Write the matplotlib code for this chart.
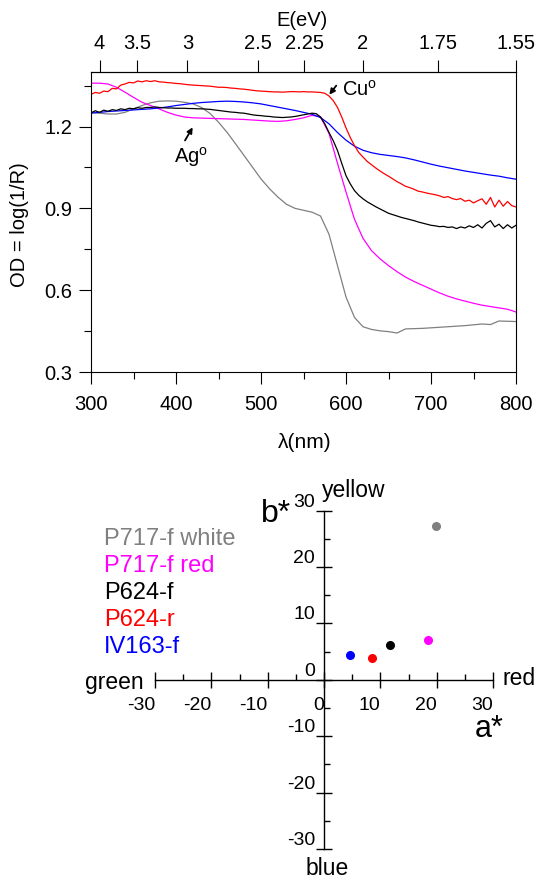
import numpy as np
import matplotlib
matplotlib.use('Agg')
import matplotlib.pyplot as plt
from matplotlib.ticker import MultipleLocator

plt.rcParams['font.family'] = ['Liberation Sans', 'DejaVu Sans']
plt.rcParams['font.size'] = 14.5
plt.rcParams['axes.unicode_minus'] = False
plt.rcParams['mathtext.fontset'] = 'custom'
plt.rcParams['mathtext.rm'] = 'Liberation Sans'

# --- reflectance spectra (OD = log(1/R)) ---
wl10 = np.arange(300, 801, 10)
wl5 = np.arange(300, 801, 5)

od_white = [1.252, 1.249, 1.246, 1.246, 1.252, 1.265, 1.277, 1.287, 1.293, 1.294,
            1.293, 1.289, 1.283, 1.270, 1.248, 1.216, 1.179, 1.137, 1.094, 1.051,
            1.008, 0.972, 0.941, 0.915, 0.900, 0.893, 0.886, 0.872, 0.805, 0.690,
            0.575, 0.500, 0.466, 0.456, 0.451, 0.448, 0.443, 0.458, 0.459, 0.460,
            0.462, 0.464, 0.466, 0.468, 0.470, 0.473, 0.476, 0.474, 0.487, 0.486,
            0.485]

od_redglaze = [1.359, 1.359, 1.356, 1.344, 1.326, 1.307, 1.289, 1.277, 1.265, 1.252,
               1.242, 1.235, 1.232, 1.231, 1.230, 1.229, 1.228, 1.227, 1.226, 1.224,
               1.222, 1.220, 1.219, 1.221, 1.226, 1.232, 1.241, 1.236, 1.175, 1.065,
               0.960, 0.860, 0.790, 0.745, 0.715, 0.690, 0.668, 0.648, 0.632, 0.618,
               0.604, 0.590, 0.578, 0.568, 0.560, 0.552, 0.545, 0.540, 0.535, 0.530,
               0.520]

od_iv163 = [1.249, 1.252, 1.255, 1.257, 1.259, 1.261, 1.263, 1.265, 1.268, 1.272,
            1.277, 1.281, 1.285, 1.288, 1.290, 1.292, 1.293, 1.292, 1.290, 1.287,
            1.283, 1.277, 1.271, 1.265, 1.259, 1.252, 1.245, 1.233, 1.210, 1.178,
            1.150, 1.128, 1.113, 1.104, 1.098, 1.094, 1.090, 1.085, 1.078, 1.070,
            1.062, 1.055, 1.049, 1.043, 1.037, 1.032, 1.027, 1.022, 1.018, 1.012,
            1.007]

od_p624r = [1.318, 1.325, 1.322, 1.330, 1.328, 1.340, 1.338, 1.352, 1.356, 1.362,
            1.360, 1.367, 1.364, 1.368, 1.365, 1.368, 1.364, 1.363, 1.361, 1.360,
            1.358, 1.357, 1.355, 1.353, 1.352, 1.351, 1.350, 1.349, 1.348, 1.346,
            1.344, 1.344, 1.343, 1.341, 1.340, 1.338, 1.337, 1.335, 1.333, 1.331,
            1.330, 1.329, 1.328, 1.327, 1.327, 1.326, 1.327, 1.328, 1.328, 1.327,
            1.328, 1.327, 1.327, 1.326, 1.325, 1.322, 1.312, 1.295, 1.270, 1.235,
            1.195, 1.160, 1.130, 1.105, 1.088, 1.072, 1.060, 1.048, 1.037, 1.027,
            1.018, 1.008, 0.998, 0.990, 0.981, 0.976, 0.970, 0.963, 0.960, 0.956,
            0.953, 0.950, 0.946, 0.940, 0.943, 0.936, 0.932, 0.936, 0.926, 0.930,
            0.920, 0.928, 0.935, 0.915, 0.940, 0.905, 0.930, 0.908, 0.925, 0.910,
            0.905]

od_p624f = [1.250, 1.258, 1.252, 1.260, 1.256, 1.262, 1.259, 1.265, 1.262, 1.267,
            1.265, 1.269, 1.267, 1.270, 1.270, 1.272, 1.270, 1.269, 1.268, 1.268,
            1.267, 1.267, 1.267, 1.266, 1.266, 1.265, 1.265, 1.264, 1.263, 1.261,
            1.259, 1.257, 1.255, 1.253, 1.252, 1.250, 1.249, 1.246, 1.243, 1.241,
            1.240, 1.238, 1.237, 1.235, 1.234, 1.233, 1.234, 1.235, 1.237, 1.240,
            1.243, 1.246, 1.249, 1.247, 1.235, 1.210, 1.178, 1.148, 1.112, 1.065,
            1.020, 0.990, 0.965, 0.948, 0.935, 0.924, 0.915, 0.906, 0.898, 0.890,
            0.882, 0.877, 0.872, 0.867, 0.863, 0.859, 0.855, 0.850, 0.846, 0.842,
            0.838, 0.836, 0.833, 0.834, 0.830, 0.832, 0.826, 0.832, 0.828, 0.836,
            0.830, 0.840, 0.828, 0.845, 0.855, 0.832, 0.842, 0.826, 0.840, 0.828,
            0.838]

# --- CIELab colour coordinates ---
sample_names = ['P717-f white', 'P717-f red', 'P624-f', 'P624-r', 'IV163-f']
sample_colors = ['#808080', '#ff00ff', 'black', '#ff0000', '#0000ff']
a_star = [19.8, 18.4, 11.8, 8.5, 4.7]
b_star = [27.2, 7.1, 6.1, 3.9, 4.4]

W, H = 538, 880


def px(x, y):
    return x / W, 1 - y / H


def nm2ev(x):
    x = np.asarray(x, dtype=float)
    with np.errstate(divide='ignore'):
        return 1240.0 / x


fig = plt.figure(figsize=(W / 100, H / 100), dpi=100)

# ---------------- spectra ----------------
ax1 = fig.add_axes([91 / W, 1 - 372 / H, 425 / W, 300 / H])
ax1.plot(wl10, od_white, color='#808080', lw=0.9)
ax1.plot(wl10, od_redglaze, color='#ff00ff', lw=0.9)
ax1.plot(wl10, od_iv163, color='#0000ff', lw=0.9)
ax1.plot(wl5, od_p624f, color='black', lw=0.9)
ax1.plot(wl5, od_p624r, color='#ff0000', lw=0.9)

ax1.set_xlim(300, 800)
ax1.set_ylim(0.3, 1.4)
ax1.set_xticks(np.arange(300, 801, 100))
ax1.xaxis.set_minor_locator(MultipleLocator(50))
ax1.set_yticks([0.3, 0.6, 0.9, 1.2])
ax1.yaxis.set_minor_locator(MultipleLocator(0.15))
ax1.tick_params(which='major', direction='out', length=8.6, width=0.8, pad=5,
                top=False, right=False)
ax1.tick_params(axis='x', which='major', pad=8)
ax1.tick_params(which='minor', direction='out', length=5, width=0.8,
                top=False, right=False)
for s in ax1.spines.values():
    s.set_linewidth(0.8)

sec = ax1.secondary_xaxis('top', functions=(nm2ev, nm2ev))
e_ticks = [4, 3.5, 3, 2.5, 2.25, 2, 1.75, 1.55]
sec.set_xticks(e_ticks)
sec.set_xticklabels(['4', '3.5', '3', '2.5', '2.25', '2', '1.75', '1.55'])
sec.xaxis.set_minor_locator(matplotlib.ticker.NullLocator())
sec.tick_params(direction='out', length=8.6, width=0.8, pad=5)
sec.spines['top'].set_linewidth(0.8)

fig.text(*px(305, 442), 'λ(nm)', ha='center', va='center', fontsize=15)
fig.text(*px(302, 20), 'E(eV)', ha='center', va='center', fontsize=14.5)
fig.text(*px(19.5, 225), 'OD = log(1/R)', ha='center', va='center',
         rotation=90, fontsize=14.5)

arrow = dict(arrowstyle='-|>', color='black', lw=1.3, mutation_scale=8,
             shrinkA=0, shrinkB=0)
ax1.annotate('', xy=(580.4, 1.317), xytext=(588.5, 1.350), arrowprops=arrow)
ax1.text(595, 1.335, 'Cu$^{\\mathrm{o}}$', ha='left', va='center', fontsize=14.5)
ax1.annotate('', xy=(419.6, 1.197), xytext=(410.6, 1.149), arrowprops=arrow)
ax1.text(417.5, 1.088, 'Ag$^{\\mathrm{o}}$', ha='center', va='center', fontsize=14.5)

# ---------------- a*b* diagram ----------------
ax2 = fig.add_axes([155 / W, 1 - 849 / H, 338 / W, 338.3 / H])
ax2.set_facecolor('none')
for a, b, c in zip(a_star, b_star, sample_colors):
    ax2.plot(a, b, 'o', color=c, ms=5.5, clip_on=False)

ax2.set_xlim(-30, 30)
ax2.set_ylim(-30, 30)
ax2.spines['left'].set_position('zero')
ax2.spines['bottom'].set_position('zero')
ax2.spines['top'].set_visible(False)
ax2.spines['right'].set_visible(False)
ax2.spines['left'].set_linewidth(1.0)
ax2.spines['bottom'].set_linewidth(1.0)
ax2.set_xticks(np.arange(-30, 31, 10))
ax2.set_yticks(np.arange(-30, 31, 10))
ax2.xaxis.set_minor_locator(MultipleLocator(5))
ax2.yaxis.set_minor_locator(MultipleLocator(5))
ax2.tick_params(which='major', direction='inout', length=11, width=1.0,
                labelsize=14, pad=1)
ax2.tick_params(axis='x', which='major', pad=7)
ax2.tick_params(which='minor', direction='in', length=4, width=1.0)
plt.setp(ax2.get_xticklabels(), ha='right')
plt.setp(ax2.get_yticklabels(), va='bottom')

ax2.text(-11.2, 28.07, 'b*', ha='left', va='baseline', fontsize=23)
ax2.text(26.8, -10.1, 'a*', ha='left', va='baseline', fontsize=22)
ax2.text(-0.4, 33.6, 'yellow', ha='left', va='center', fontsize=16.5, clip_on=False)
ax2.text(0.5, -33.4, 'blue', ha='center', va='center', fontsize=16.5, clip_on=False)
ax2.text(-32.1, -0.4, 'green', ha='right', va='center', fontsize=16.5, clip_on=False)
ax2.text(31.6, 0.2, 'red', ha='left', va='center', fontsize=16.5, clip_on=False)

legend_y = [538.7, 565.5, 592.5, 620, 646.7]
for name, c, y in zip(sample_names, sample_colors, legend_y):
    fig.text(*px(104, y), name, color=c, ha='left', va='center', fontsize=17)

fig.savefig('out.png', dpi=100)
